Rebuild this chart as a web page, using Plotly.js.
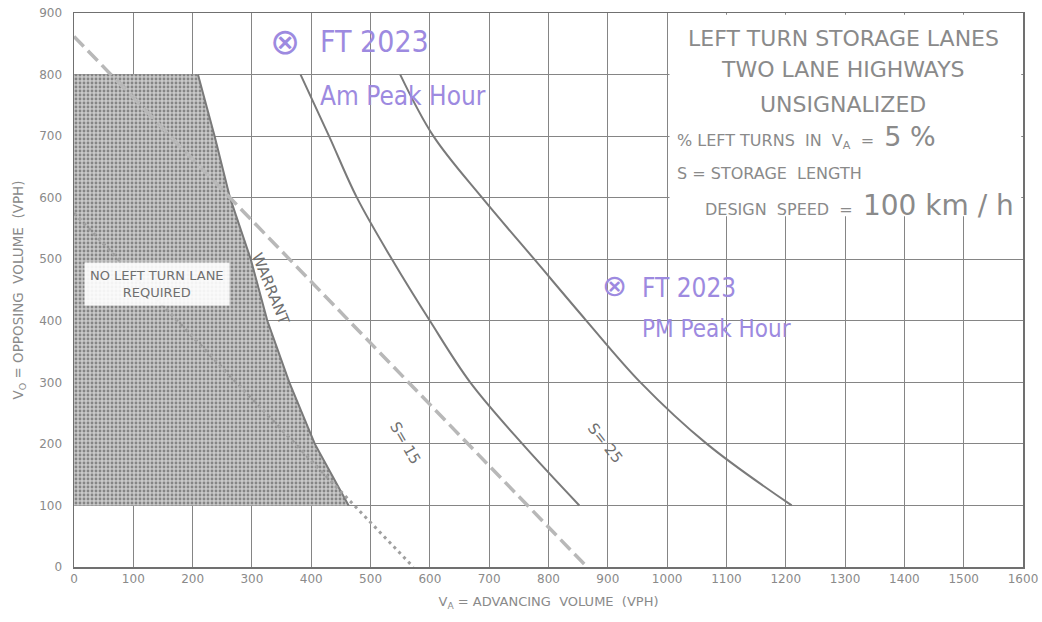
<!DOCTYPE html>
<html>
<head>
<meta charset="utf-8">
<script src="https://cdn.plot.ly/plotly-3.0.1.min.js"></script>
<style>html,body{margin:0;padding:0;background:#fff;}#chart{width:1042px;height:622px;}</style>
</head>
<body>
<div id="chart"></div>
<script>
// ---- data ----
const opposingLevels = [800, 700, 600, 500, 400, 300, 200, 100];
const warrantVa = [209, 237, 263, 298, 326, 363, 406, 463];
const s15Va = [382, 430, 477, 536, 600, 668, 756, 852];
const s25Va = [550, 606, 688, 776, 864, 955, 1067, 1210];
const shadeCornerVa = [0, 0];
const shadeCornerVo = [100, 800];
const longDashVa = [0, 865];
const longDashVo = [862, 0];
const beadVa = [0, 572];
const beadVo = [575, 0];
const xTicks = [0,100,200,300,400,500,600,700,800,900,1000,1100,1200,1300,1400,1500,1600];
const yTicks = [0,100,200,300,400,500,600,700,800,900];

const lineGray = '#7a7a7a';
const textGray = '#8a8a8a';
const purple = '#9d8ae0';
const font = 'DejaVu Sans, Liberation Sans, sans-serif';
const hand = 'Liberation Sans Narrow, DejaVu Sans Condensed, Roboto, sans-serif';

const traces = [
  {
    x: shadeCornerVa.concat(warrantVa), y: shadeCornerVo.concat(opposingLevels),
    mode: 'none', fill: 'toself', fillcolor: 'rgba(160,160,160,0.6)',
    fillpattern: {shape: '.', fgcolor: '#858585', bgcolor: '#c9c9c9', size: 4, solidity: 0.4},
    hoverinfo: 'skip', showlegend: false
  },
  { x: warrantVa, y: opposingLevels, mode: 'lines', line: {color: lineGray, width: 2}, showlegend: false, name: 'Warrant' },
  { x: s15Va, y: opposingLevels, mode: 'lines', line: {color: lineGray, width: 2, shape: 'spline', smoothing: 1}, showlegend: false, name: 'S=15' },
  { x: s25Va, y: opposingLevels, mode: 'lines', line: {color: lineGray, width: 2, shape: 'spline', smoothing: 1}, showlegend: false, name: 'S=25' },
  { x: longDashVa, y: longDashVo, mode: 'lines', line: {color: '#b8b8b8', width: 3.5, dash: '14px,6px'}, showlegend: false },
  { x: beadVa, y: beadVo, mode: 'lines', line: {color: '#a0a0a0', width: 3, dash: '3px,4px'}, showlegend: false }
];

const ann = [];
function a(x, y, text, size, opts) {
  ann.push(Object.assign({x: x, y: y, xref: 'x', yref: 'y', text: text, showarrow: false,
    font: {family: font, size: size, color: textGray}}, opts || {}));
}
// title block
a(1297, 859, 'LEFT TURN STORAGE LANES', 22);
a(1297, 809, 'TWO LANE HIGHWAYS', 22);
a(1297, 752, 'UNSIGNALIZED', 22);
a(1013, 700, "% LEFT TURNS  IN  V<sub>A</sub>  =  <span style='font-size:27px'>5 %</span>", 16, {xanchor: 'left'});
a(1013, 640, 'S = STORAGE  LENGTH', 16, {xanchor: 'left'});
a(1061, 587, "DESIGN  SPEED  =  <span style='font-size:28px'>100 km / h</span>", 16, {xanchor: 'left'});
// chart labels
a(140, 460, 'NO LEFT TURN LANE<br>REQUIRED', 13, {bgcolor: 'rgba(255,255,255,0.9)', borderpad: 5, font: {family: font, size: 13, color: '#6f6f6f'}});
a(332, 452, 'WARRANT', 15, {textangle: 68, font: {family: font, size: 15, color: '#6f6f6f'}});
a(558, 201, 'S= 15', 15, {textangle: 60, font: {family: font, size: 15, color: '#6f6f6f'}});
a(895, 201, 'S= 25', 15, {textangle: 52, font: {family: font, size: 15, color: '#6f6f6f'}});
// handwritten notes
a(356, 854, '⊗', 36, {font: {family: font, size: 36, color: purple}});
a(411, 854, 'FT 2023', 30, {xanchor: 'left', font: {family: hand, size: 30, color: purple}});
a(411, 765, 'Am Peak Hour', 26, {xanchor: 'left', font: {family: hand, size: 26, color: purple}});
a(912, 457, '⊗', 30, {font: {family: font, size: 30, color: purple}});
a(954, 454, 'FT 2023', 26, {xanchor: 'left', font: {family: hand, size: 26, color: purple}});
a(954, 387, 'PM Peak Hour', 24, {xanchor: 'left', font: {family: hand, size: 24, color: purple}});

const layout = {
  width: 1042, height: 622,
  margin: {l: 74, r: 19, t: 13, b: 55},
  paper_bgcolor: '#ffffff', plot_bgcolor: '#ffffff',
  showlegend: false,
  xaxis: {
    range: [0, 1600], tickvals: xTicks, ticktext: xTicks.map(String),
    showgrid: true, gridcolor: '#858585', gridwidth: 1, zeroline: false,
    showline: true, linecolor: '#707070', linewidth: 1.5, mirror: true,
    ticks: '', tickfont: {family: font, size: 12, color: textGray},
    title: {text: 'V<sub>A</sub> = ADVANCING  VOLUME  (VPH)', font: {family: font, size: 13, color: textGray}, standoff: 12},
    fixedrange: true
  },
  yaxis: {
    range: [0, 900], tickvals: yTicks, ticktext: yTicks.map(String),
    showgrid: true, gridcolor: '#858585', gridwidth: 1, zeroline: false,
    showline: true, linecolor: '#707070', linewidth: 1.5, mirror: true,
    ticks: '', ticklabelstandoff: 8, tickfont: {family: font, size: 12, color: textGray},
    title: {text: 'V<sub>O</sub> = OPPOSING  VOLUME  (VPH)', font: {family: font, size: 13.5, color: textGray}, standoff: 12},
    fixedrange: true
  },
  shapes: [
    {type: 'rect', xref: 'x', yref: 'y', x0: 1004, x1: 1597, y0: 570, y1: 897,
     fillcolor: '#ffffff', line: {width: 0}, layer: 'between'}
  ],
  annotations: ann
};

Plotly.newPlot('chart', traces, layout, {displayModeBar: false, staticPlot: true});
</script>
</body>
</html>
